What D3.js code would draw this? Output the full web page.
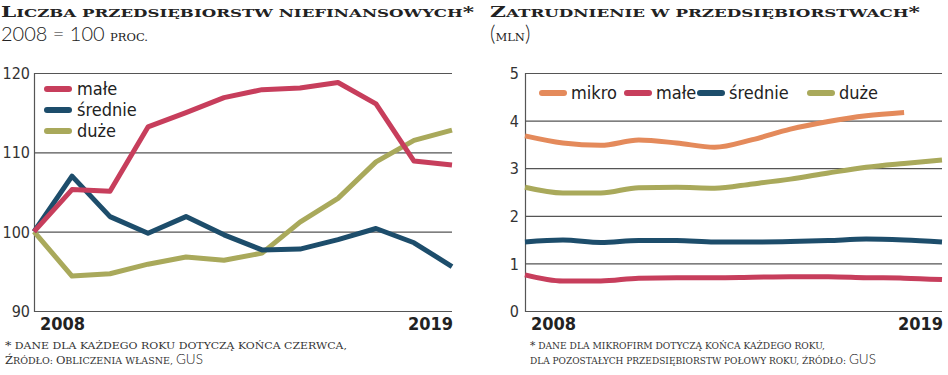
<!doctype html>
<html lang="pl">
<head>
<meta charset="utf-8">
<title>Przedsiębiorstwa</title>
<script src="https://cdn.jsdelivr.net/npm/d3@7/dist/d3.min.js"></script>
<style>
  body { margin: 0; background: #fff; }
  svg { display: block; }
  .title { font-family: "DejaVu Serif", serif; font-weight: bold; fill: #222; }
  .sub { font-family: "DejaVu Serif", serif; fill: #222; }
  .light { font-family: Lato, "Open Sans", sans-serif; font-weight: 300; fill: #222; }
  .note { font-family: "DejaVu Serif", serif; fill: #333; }
  .ytick { font-family: "Liberation Sans Narrow", "DejaVu Sans Condensed", sans-serif; font-size: 16px; fill: #333; }
  .xtick { font-family: "Liberation Sans Narrow", "DejaVu Sans Condensed", sans-serif; font-size: 18px; font-weight: bold; fill: #222; }
  .leg { font-family: "Liberation Sans Narrow", "DejaVu Sans Condensed", sans-serif; font-size: 18px; fill: #222; }
</style>
</head>
<body>
<svg width="948" height="375"></svg>
<script>
// --- data ---
var years = [2008, 2009, 2010, 2011, 2012, 2013, 2014, 2015, 2016, 2017, 2018, 2019];

// liczba przedsiębiorstw, 2008 = 100
var firmsMale    = [100, 105.3, 105.1, 113.2, 115.0, 116.9, 117.9, 118.1, 118.8, 116.1, 108.9, 108.4];
var firmsSrednie = [100, 107.0, 101.9, 99.8, 101.9, 99.6, 97.7, 97.8, 99.0, 100.4, 98.6, 95.6];
var firmsDuze    = [100, 94.4, 94.7, 95.9, 96.8, 96.4, 97.3, 101.2, 104.2, 108.8, 111.5, 112.8];

// zatrudnienie, mln
var empMikro   = [3.68, 3.53, 3.48, 3.59, 3.53, 3.44, 3.60, 3.82, 3.98, 4.10, 4.17, null];
var empMale    = [0.76, 0.63, 0.63, 0.69, 0.70, 0.70, 0.71, 0.72, 0.72, 0.70, 0.69, 0.66];
var empSrednie = [1.45, 1.49, 1.44, 1.48, 1.48, 1.45, 1.45, 1.46, 1.48, 1.51, 1.49, 1.45];
var empDuze    = [2.60, 2.48, 2.48, 2.59, 2.60, 2.58, 2.67, 2.77, 2.90, 3.02, 3.10, 3.17];

var leftTicks = [90, 100, 110, 120];
var rightTicks = [0, 1, 2, 3, 4, 5];
var xLabels = [2008, 2019];

var colors = { mikro: "#e48a5b", male: "#c73e5c", srednie: "#1d4d6b", duze: "#a9a95b" };

var svg = d3.select("svg");

// --- helpers ---
function fitText(sel, w) {
    sel.attr("textLength", w).attr("lengthAdjust", "spacingAndGlyphs");
}

// fake small caps: uppercase letters big, the rest uppercased at a smaller size
function smallCaps(textSel, str, big, small) {
    var runs = str.match(/([A-ZĄĆĘŁŃÓŚŹŻ0-9*]+|[^A-ZĄĆĘŁŃÓŚŹŻ0-9*]+)/g);
    runs.forEach(function (r) {
        var isBig = /^[A-ZĄĆĘŁŃÓŚŹŻ0-9*]/.test(r);
        textSel.append("tspan").attr("font-size", isBig ? big : small).text(r.toUpperCase());
    });
    return textSel;
}

function drawPanel(opts) {
    var g = svg.append("g");
    var x = d3.scaleLinear().domain([2008, 2019]).range([opts.x0, opts.x1]);
    var y = d3.scaleLinear().domain(opts.domain).range([311, 73]);

    // gridlines + y labels
    var yAxis = d3.axisLeft(y).tickValues(opts.ticks).tickSize(-(opts.x1 - opts.x0))
        .tickPadding(opts.pad).tickFormat(d3.format("d"));
    var ya = g.append("g").attr("transform", "translate(" + opts.x0 + ",0)").call(yAxis);
    ya.select(".domain").attr("stroke", "#555").attr("stroke-width", 1.2);
    ya.selectAll(".tick line").attr("stroke", "#555").attr("stroke-width", 1.2);
    ya.selectAll(".tick text").attr("class", "ytick").attr("font-family", null).attr("font-size", null).attr("dy", "0.35em");

    // x labels
    g.selectAll(".xl").data(xLabels).enter().append("text")
        .attr("class", "xtick")
        .attr("x", function (d) { return d === 2008 ? x(d) + 6 : x(d) + 1; })
        .attr("y", 330)
        .attr("text-anchor", function (d) { return d === 2008 ? "start" : "end"; })
        .text(function (d) { return d; });

    var line = d3.line()
        .defined(function (d) { return d != null; })
        .x(function (d, i) { return x(years[i]); })
        .y(function (d) { return y(d); })
        .curve(opts.curve);

    opts.series.forEach(function (s) {
        g.append("path")
            .attr("d", line(s.values))
            .attr("fill", "none")
            .attr("stroke", colors[s.key])
            .attr("stroke-width", 5)
            .attr("stroke-linejoin", "round");
    });
    return g;
}

// --- left panel ---
drawPanel({
    x0: 34, x1: 452, domain: [90, 120], ticks: leftTicks, curve: d3.curveLinear, pad: 4,
    series: [
        { key: "duze", values: firmsDuze },
        { key: "srednie", values: firmsSrednie },
        { key: "male", values: firmsMale }
    ]
});

// --- right panel ---
drawPanel({
    x0: 525, x1: 942, domain: [0, 5], ticks: rightTicks, curve: d3.curveMonotoneX, pad: 6,
    series: [
        { key: "male", values: empMale },
        { key: "srednie", values: empSrednie },
        { key: "duze", values: empDuze },
        { key: "mikro", values: empMikro }
    ]
});

// --- legends ---
var leftLegend = [
    { key: "male", label: "małe" },
    { key: "srednie", label: "średnie" },
    { key: "duze", label: "duże" }
];
var ll = svg.selectAll(".ll").data(leftLegend).enter().append("g")
    .attr("transform", function (d, i) { return "translate(47," + (89 + i * 21) + ")"; });
ll.append("line").attr("x1", 0).attr("x2", 22).attr("stroke", function (d) { return colors[d.key]; })
    .attr("stroke-width", 6).attr("stroke-linecap", "round");
ll.append("text").attr("class", "leg").attr("x", 30).attr("y", 6).text(function (d) { return d.label; });

var rightLegend = [
    { key: "mikro", label: "mikro", x: 542 },
    { key: "male", label: "małe", x: 627 },
    { key: "srednie", label: "średnie", x: 700 },
    { key: "duze", label: "duże", x: 810 }
];
var rl = svg.selectAll(".rl").data(rightLegend).enter().append("g")
    .attr("transform", function (d) { return "translate(" + d.x + ",93)"; });
rl.append("line").attr("x1", 0).attr("x2", 22).attr("stroke", function (d) { return colors[d.key]; })
    .attr("stroke-width", 6).attr("stroke-linecap", "round");
rl.append("text").attr("class", "leg").attr("x", 29).attr("y", 6).text(function (d) { return d.label; });

// --- titles ---
svg.append("text").attr("class", "title").attr("x", 1).attr("y", 17)
    .call(smallCaps, "Liczba przedsiębiorstw niefinansowych*", 15, 11.5).call(fitText, 473);
var t2 = svg.append("text").attr("x", 1).attr("y", 41);
t2.append("tspan").attr("class", "light").attr("font-size", 20).text("2008 = 100 ");
t2.append("tspan").attr("class", "sub").attr("font-size", 11.5).text("PROC.");

svg.append("text").attr("class", "title").attr("x", 490).attr("y", 17)
    .call(smallCaps, "Zatrudnienie w przedsiębiorstwach*", 15, 11.5).call(fitText, 430);
var t3 = svg.append("text").attr("x", 490).attr("y", 41);
t3.append("tspan").attr("class", "light").attr("font-size", 21).text("(");
t3.append("tspan").attr("class", "sub").attr("font-size", 11.5).text("MLN");
t3.append("tspan").attr("class", "light").attr("font-size", 21).text(")");

// --- footnotes ---
svg.append("text").attr("class", "note").attr("x", 5).attr("y", 349)
    .call(smallCaps, "* dane dla każdego roku dotyczą końca czerwca,", 10.5, 9).call(fitText, 342);
var n2 = svg.append("text").attr("class", "note").attr("x", 5).attr("y", 364);
smallCaps(n2, "Źródło: Obliczenia własne, ", 11.5, 9.5);
n2.append("tspan").attr("class", "light").attr("font-size", 13.5).attr("font-weight", 400).text("GUS");

svg.append("text").attr("class", "note").attr("x", 530).attr("y", 349)
    .call(smallCaps, "* dane dla mikrofirm dotyczą końca każdego roku,", 10.5, 9).call(fitText, 295);
var n3 = svg.append("text").attr("class", "note").attr("x", 530).attr("y", 364);
smallCaps(n3, "dla pozostałych przedsiębiorstw połowy roku, źródło: ", 10.5, 9);
n3.append("tspan").attr("class", "light").attr("font-size", 13.5).attr("font-weight", 400).text("GUS");
</script>
</body>
</html>
